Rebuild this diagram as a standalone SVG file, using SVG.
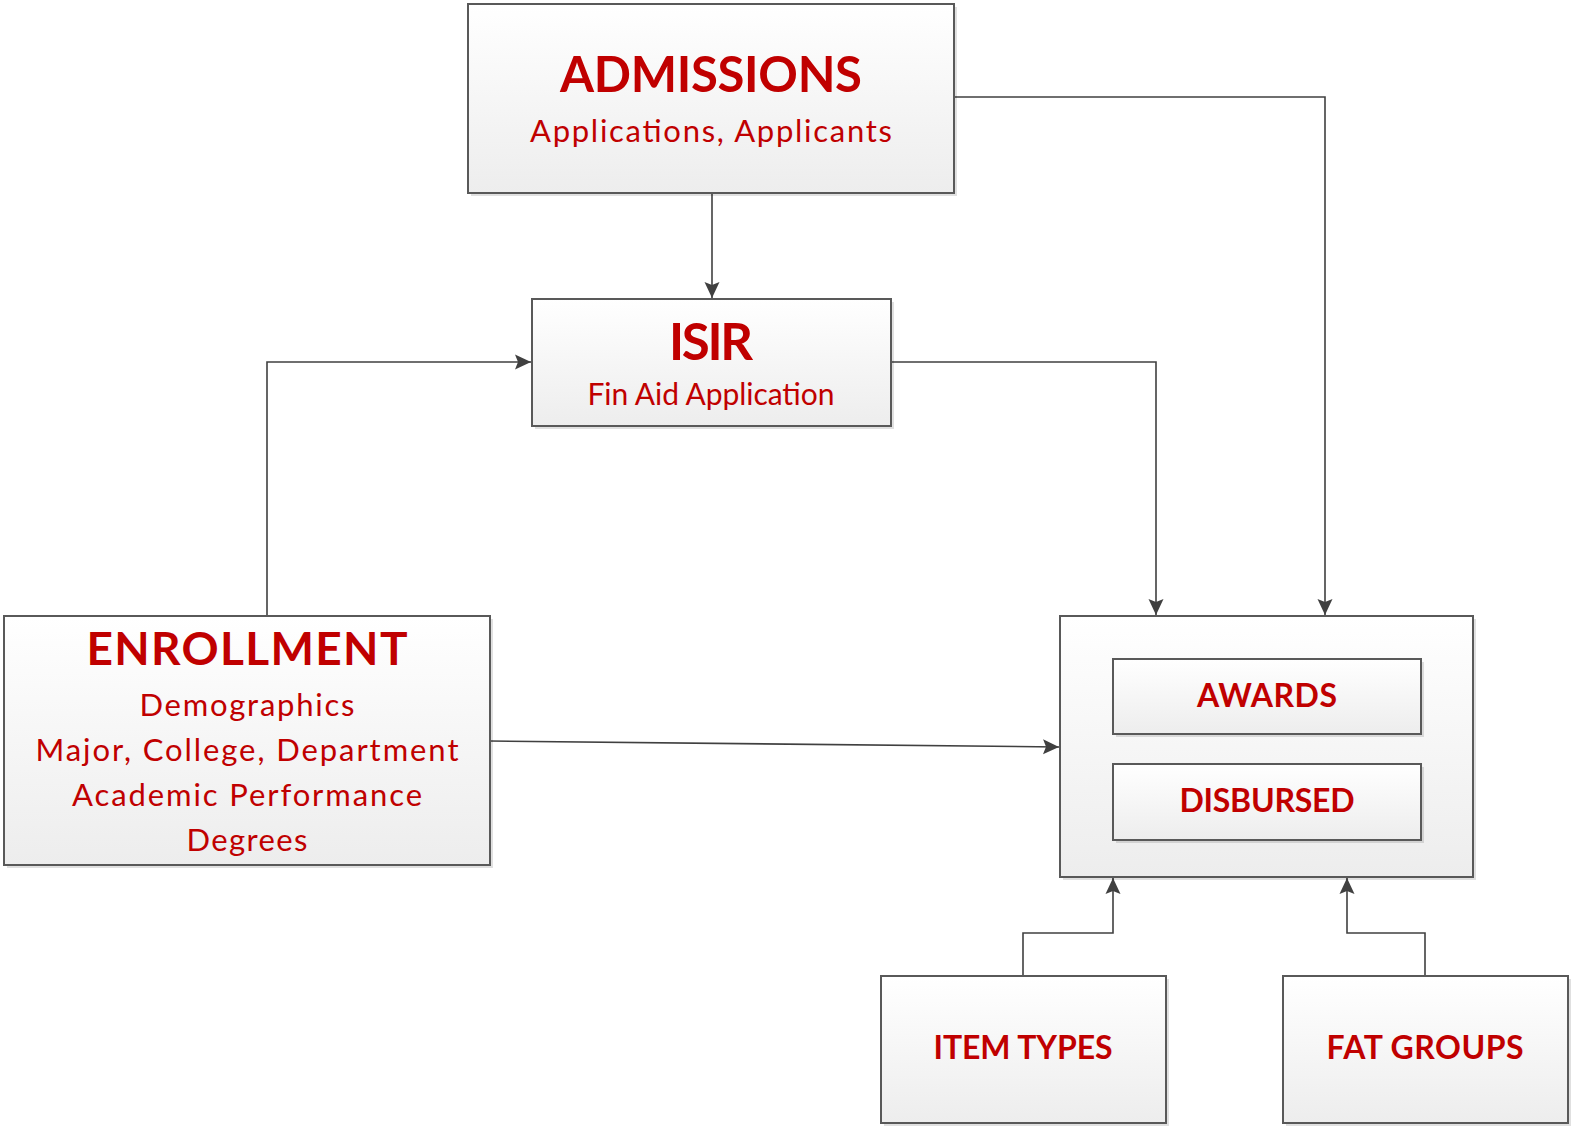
<svg xmlns="http://www.w3.org/2000/svg" width="1574" height="1128" viewBox="0 0 1574 1128">
<style>
.box{fill:url(#g);stroke:#595959;stroke-width:2}
.sh{fill:#000;opacity:0.12}
.t{font-family:Lato,"Liberation Sans",sans-serif;fill:#C00000;text-anchor:middle}
.b{font-weight:bold}
.c{fill:none;stroke:#404040;stroke-width:1.6}
</style>
<defs>
<linearGradient id="g" x1="0" y1="0" x2="0" y2="1">
<stop offset="0" stop-color="#ffffff"/>
<stop offset="1" stop-color="#ededed"/>
</linearGradient>
<marker id="a" markerUnits="userSpaceOnUse" markerWidth="17" markerHeight="16" refX="16" refY="8" orient="auto">
<path d="M0,0.5 L16,8 L0,15.5 L3,8 Z" fill="#404040"/>
</marker>
</defs>
<rect width="1574" height="1128" fill="#fff"/>
<g id="connectors">
<path class="c" d="M712,193 L712,298" marker-end="url(#a)"/>
<path class="c" d="M954,97 L1325,97 L1325,615" marker-end="url(#a)"/>
<path class="c" d="M891,362 L1156,362 L1156,615" marker-end="url(#a)"/>
<path class="c" d="M267,616 L267,362 L531,362" marker-end="url(#a)"/>
<path class="c" d="M490,741 L1059,747" marker-end="url(#a)"/>
<path class="c" d="M1023,976 L1023,933 L1113,933 L1113,878" marker-end="url(#a)"/>
<path class="c" d="M1425,976 L1425,933 L1347,933 L1347,878" marker-end="url(#a)"/>
</g>
<g id="admissions">
<rect class="sh" x="471" y="7" width="486" height="189"/>
<rect class="box" x="468" y="4" width="486" height="189"/>
<text class="t b" x="711" y="92" font-size="49" textLength="302">ADMISSIONS</text>
<text class="t" x="711" y="142" font-size="31" textLength="362">Applications, Applicants</text>
</g>
<g id="isir">
<rect class="sh" x="535" y="302" width="359" height="127"/>
<rect class="box" x="532" y="299" width="359" height="127"/>
<text class="t b" x="711" y="360" font-size="51" textLength="84">ISIR</text>
<text class="t" x="711" y="405" font-size="30" textLength="247">Fin Aid Application</text>
</g>
<g id="enrollment">
<rect class="sh" x="7" y="619" width="486" height="249"/>
<rect class="box" x="4" y="616" width="486" height="249"/>
<text class="t b" x="247" y="665" font-size="46" textLength="321">ENROLLMENT</text>
<text class="t" x="247" y="716" font-size="31" textLength="215">Demographics</text>
<text class="t" x="247" y="761" font-size="31" textLength="423">Major, College, Department</text>
<text class="t" x="247" y="806" font-size="31" textLength="350">Academic Performance</text>
<text class="t" x="247" y="851" font-size="31" textLength="121">Degrees</text>
</g>
<g id="awards-disbursed">
<rect class="sh" x="1063" y="619" width="413" height="261"/>
<rect class="box" x="1060" y="616" width="413" height="261"/>
<g id="awards">
<rect class="sh" x="1116" y="662" width="308" height="75"/>
<rect class="box" x="1113" y="659" width="308" height="75"/>
<text class="t b" x="1267" y="707" font-size="32" textLength="140">AWARDS</text>
</g>
<g id="disbursed">
<rect class="sh" x="1116" y="767" width="308" height="76"/>
<rect class="box" x="1113" y="764" width="308" height="76"/>
<text class="t b" x="1267" y="812" font-size="32" textLength="175">DISBURSED</text>
</g>
</g>
<g id="item-types">
<rect class="sh" x="884" y="979" width="285" height="147"/>
<rect class="box" x="881" y="976" width="285" height="147"/>
<text class="t b" x="1023" y="1059" font-size="32" textLength="179">ITEM TYPES</text>
</g>
<g id="fat-groups">
<rect class="sh" x="1286" y="979" width="285" height="147"/>
<rect class="box" x="1283" y="976" width="285" height="147"/>
<text class="t b" x="1425" y="1059" font-size="32" textLength="197">FAT GROUPS</text>
</g>
</svg>
